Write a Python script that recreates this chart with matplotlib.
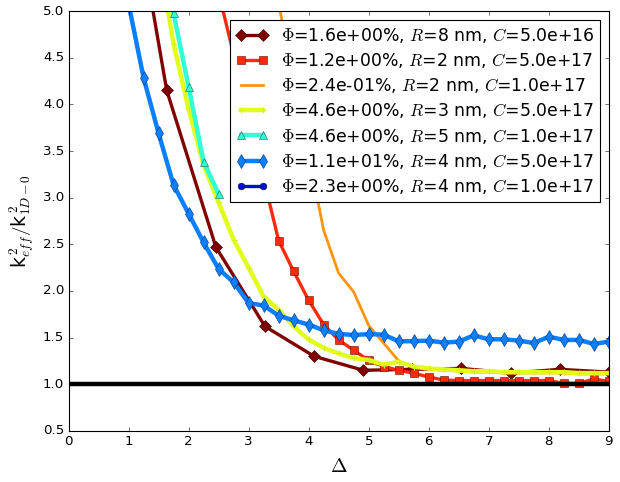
import matplotlib
matplotlib.use("Agg")
import matplotlib.pyplot as plt
import numpy as np

plt.style.use('classic')

# ------------------------------------------------------------------------------------------------
# series
x_R8 = [0.818, 1.636, 2.455, 3.273, 4.091, 4.909, 5.727, 6.545, 7.364, 8.182, 9.0]
y_R8 = [7.2, 4.15, 2.47, 1.62, 1.30, 1.15, 1.16, 1.17, 1.12, 1.16, 1.13]

x_R2a = [2.5, 3.5, 3.75, 4.0, 4.25, 4.5, 4.75, 5.0, 5.25, 5.5, 5.75, 6.0, 6.25,
         6.5, 6.75, 7.0, 7.25, 7.5, 7.75, 8.0, 8.25, 8.5, 8.75, 9.0]
y_R2a = [5.2, 2.54, 2.21, 1.90, 1.64, 1.475, 1.365, 1.255, 1.19, 1.15, 1.118, 1.078, 1.045,
         1.04, 1.04, 1.04, 1.04, 1.04, 1.04, 1.04, 1.01, 1.01, 1.057, 1.03]

x_R2b = [3.5, 3.75, 4.0, 4.25, 4.5, 4.75, 5.0, 5.25, 5.5, 5.75, 6.0, 6.25, 6.5,
         6.75, 7.0, 7.25, 7.5, 7.75, 8.0, 8.25, 8.5, 8.75, 9.0]
y_R2b = [5.08, 4.27, 3.46, 2.65, 2.19, 1.99, 1.63, 1.44, 1.25, 1.18, 1.16, 1.15, 1.14,
         1.13, 1.13, 1.12, 1.12, 1.12, 1.12, 1.12, 1.11, 1.11, 1.11]

x_R3 = [1.5, 1.75, 2.0, 2.25, 2.5, 2.75, 3.0, 3.25, 3.5, 3.75, 4.0, 4.25, 4.5, 4.75,
        5.0, 5.25, 5.5, 5.75, 6.0, 6.25, 6.5, 6.75, 7.0, 7.25, 7.5, 7.75, 8.0, 8.25,
        8.5, 8.75, 9.0]
y_R3 = [5.6, 4.65, 3.95, 3.35, 2.95, 2.55, 2.25, 1.94, 1.80, 1.62, 1.48, 1.39, 1.33, 1.28,
        1.26, 1.21, 1.24, 1.19, 1.17, 1.16, 1.15, 1.14, 1.14, 1.13, 1.13, 1.13, 1.13, 1.13,
        1.12, 1.12, 1.12]

x_R5 = [1.5, 1.75, 2.0, 2.25, 2.5]
y_R5 = [5.9, 4.975, 4.19, 3.386, 3.04]

x_R4a = [0.75, 1.0, 1.25, 1.5, 1.75, 2.0, 2.25, 2.5, 2.75, 3.0, 3.25, 3.5, 3.75, 4.0,
         4.25, 4.5, 4.75, 5.0, 5.25, 5.5, 5.75, 6.0, 6.25, 6.5, 6.75, 7.0, 7.25, 7.5,
         7.75, 8.0, 8.25, 8.5, 8.75, 9.0]
y_R4a = [6.7, 5.08, 4.286, 3.69, 3.136, 2.83, 2.52, 2.236, 2.093, 1.87, 1.845, 1.735, 1.685, 1.64,
         1.578, 1.54, 1.528, 1.537, 1.532, 1.46, 1.462, 1.468, 1.446, 1.457, 1.524, 1.482, 1.482, 1.468,
         1.442, 1.51, 1.475, 1.475, 1.432, 1.457]

# last series does not show inside the plotted window
x_R4b = []
y_R4b = []

labels = [r'$\Phi$=1.6e+00%, $R$=8 nm, $C$=5.0e+16',
          r'$\Phi$=1.2e+00%, $R$=2 nm, $C$=5.0e+17',
          r'$\Phi$=2.4e-01%, $R$=2 nm, $C$=1.0e+17',
          r'$\Phi$=4.6e+00%, $R$=3 nm, $C$=5.0e+17',
          r'$\Phi$=4.6e+00%, $R$=5 nm, $C$=1.0e+17',
          r'$\Phi$=1.1e+01%, $R$=4 nm, $C$=5.0e+17',
          r'$\Phi$=2.3e+00%, $R$=4 nm, $C$=1.0e+17']
# ------------------------------------------------------------------------------------------------

fig = plt.figure(figsize=(7.75, 6.025), dpi=80, facecolor='white')
ax = fig.add_axes([0.1105, 0.106, 0.8715, 0.871])

ax.plot(x_R8, y_R8, color='#800000', lw=3, marker='D', ms=8, mec='#300000', mew=0.5, label=labels[0])
ax.plot(x_R2a, y_R2a, color='#ff2a0a', lw=3, marker='s', ms=7, mec='#601000', mew=0.5, label=labels[1])
ax.plot(x_R2b, y_R2b, color='#ff9410', lw=2.5, label=labels[2])
ax.plot(x_R3, y_R3, color='#e2ff1c', lw=4, marker='+', ms=5, mec='#d8f020', mew=1, label=labels[3])
ax.plot(x_R5, y_R5, color='#30ffd8', lw=4, marker='^', ms=7, mec='#106050', mew=0.5, label=labels[4])
ax.plot(x_R4a, y_R4a, color='#0a80ff', lw=4, marker='d', ms=9, mec='#003080', mew=0.5, label=labels[5])
ax.plot(x_R4b, y_R4b, color='#0010d0', lw=3, marker='o', ms=6, mec='#000050', mew=0.5, label=labels[6])

ax.axhline(1.0, color='k', lw=4, zorder=5)

ax.set_xlim(0, 9)
ax.set_ylim(0.5, 5.0)
ax.set_xticks(np.arange(0, 10, 1))
ax.set_yticks(np.arange(0.5, 5.01, 0.5))

ax.set_xlabel(r'$\Delta$', fontsize=18, labelpad=8)
ax.set_ylabel(r'k$_{eff}^{\,2}/$k$_{1D-0}^{\,2}$', fontsize=17)

ax.legend(loc='upper right', fontsize=15.5, labelspacing=0.36, handlelength=1.9,
          handletextpad=0.7, borderpad=0.35, borderaxespad=0.5)

fig.savefig('out.png', dpi=80, facecolor='white')
